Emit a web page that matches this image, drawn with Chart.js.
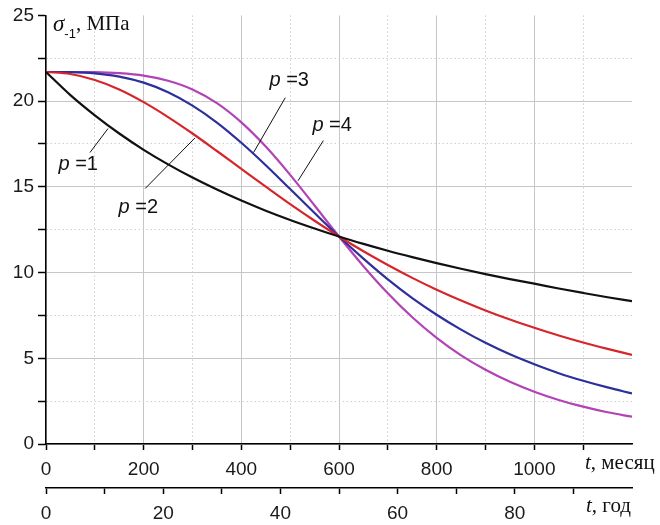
<!DOCTYPE html>
<html>
<head>
<meta charset="utf-8">
<script src="https://cdn.jsdelivr.net/npm/chart.js@4/dist/chart.umd.min.js"></script>
<style>
  html, body { margin: 0; padding: 0; background: #fff; }
  #wrap { width: 660px; height: 525px; }
</style>
</head>
<body>
<div id="wrap"><canvas id="sigmaChart"></canvas></div>
<script>
// time, months (read every 50 months)
const months = [0, 50, 100, 150, 200, 250, 300, 350, 400, 450, 500, 550, 600,
                650, 700, 750, 800, 850, 900, 950, 1000, 1050, 1100, 1150, 1200];

// sigma_-1, MPa for each p
const sigmaP1 = [21.70, 20.35, 19.17, 18.11, 17.16, 16.31, 15.54, 14.84, 14.20, 13.61, 13.07, 12.57, 12.10,
                 11.67, 11.27, 10.90, 10.55, 10.22, 9.91, 9.62, 9.35, 9.07, 8.81, 8.56, 8.33];
const sigmaP2 = [21.70, 21.58, 21.23, 20.68, 19.94, 19.07, 18.11, 17.09, 16.05, 15.01, 13.99, 13.02, 12.10,
                 11.24, 10.44, 9.69, 9.00, 8.37, 7.79, 7.26, 6.78, 6.33, 5.92, 5.55, 5.20];
const sigmaP3 = [21.70, 21.69, 21.62, 21.43, 21.08, 20.52, 19.74, 18.75, 17.57, 16.26, 14.87, 13.47, 12.10,
                 10.81, 9.60, 8.51, 7.54, 6.67, 5.90, 5.23, 4.65, 4.13, 3.69, 3.30, 2.95];
const sigmaP4 = [21.70, 21.70, 21.69, 21.63, 21.49, 21.19, 20.68, 19.88, 18.76, 17.35, 15.70, 13.91, 12.10,
                 10.37, 8.79, 7.39, 6.19, 5.17, 4.33, 3.63, 3.05, 2.57, 2.18, 1.85, 1.59];

const seriesNames = ['p =1', 'p =2', 'p =3', 'p =4'];
const seriesColors = ['#111111', '#d6262b', '#2d2f9c', '#b243b6'];

// label positions (month, sigma) and leader lines
const labelPos = [[66, 16.3], [189, 13.8], [498, 21.2], [586, 18.6]];
const leaderLines = [
    [[90, 17.0], [127, 18.4]],
    [[203, 14.9], [305, 17.85]],
    [[490, 20.2], [425, 17.0]],
    [[568, 17.7], [516, 15.35]]
];

const SANS = '"Liberation Sans", Arial, sans-serif';
const SERIF = '"Liberation Serif", "DejaVu Serif", serif';

function toPoints(values){
    return months.map((m, i) => ({x: m, y: values[i]}));
}

const allSeries = [sigmaP1, sigmaP2, sigmaP3, sigmaP4];
const datasets = allSeries.map((vals, i) => ({
    label: seriesNames[i],
    data: toPoints(vals),
    borderColor: seriesColors[i],
    backgroundColor: seriesColors[i],
    borderWidth: 2.2,
    pointRadius: 0,
    fill: false,
    cubicInterpolationMode: 'monotone'
}));

// text labels, axis names and leader lines
const textPlugin = {
    id: 'textPlugin',
    afterDraw(chart){
        const ctx = chart.ctx;
        const xs = chart.scales.x;
        const ys = chart.scales.y;
        const x2 = chart.scales.x2;
        ctx.save();
        ctx.fillStyle = '#111';
        ctx.textBaseline = 'alphabetic';

        // y title: sigma_-1, MPa
        let px = chart.chartArea.left + 7;
        ctx.font = 'italic 23px ' + SERIF;
        ctx.fillText('σ', px, 31);
        px += ctx.measureText('σ').width;
        ctx.font = '13px ' + SANS;
        ctx.fillText('-1', px, 38);
        px += ctx.measureText('-1').width;
        ctx.font = '21px ' + SERIF;
        ctx.fillText(', МПа', px, 30);

        // x axis names
        const drawAxisName = (rest, x, y) => {
            ctx.font = 'italic 21px ' + SERIF;
            ctx.fillText('t', x, y);
            const w = ctx.measureText('t').width;
            ctx.font = '21px ' + SERIF;
            ctx.fillText(rest, x + w, y);
        };
        drawAxisName(', месяц', xs.right - 47, xs.top + 25);
        drawAxisName(', год', x2.right - 46, x2.top + 24);

        // leader lines
        ctx.strokeStyle = '#111';
        ctx.lineWidth = 1;
        leaderLines.forEach(seg => {
            ctx.beginPath();
            ctx.moveTo(xs.getPixelForValue(seg[0][0]), ys.getPixelForValue(seg[0][1]));
            ctx.lineTo(xs.getPixelForValue(seg[1][0]), ys.getPixelForValue(seg[1][1]));
            ctx.stroke();
        });

        // p labels
        ctx.textBaseline = 'middle';
        labelPos.forEach((pos, i) => {
            const rest = seriesNames[i].slice(1);
            ctx.font = 'italic 20px ' + SANS;
            const w1 = ctx.measureText('p').width;
            ctx.font = '20px ' + SANS;
            const w2 = ctx.measureText(rest).width;
            const cx = xs.getPixelForValue(pos[0]);
            const cy = ys.getPixelForValue(pos[1]);
            const left = cx - (w1 + w2) / 2;
            ctx.font = 'italic 20px ' + SANS;
            ctx.fillText('p', left, cy);
            ctx.font = '20px ' + SANS;
            ctx.fillText(rest, left + w1, cy);
        });
        ctx.restore();
    }
};

const tickFont = {family: SANS, size: 19};

const config = {
    type: 'line',
    data: {datasets: datasets},
    options: {
        responsive: true,
        maintainAspectRatio: false,
        animation: false,
        layout: {padding: {top: 14, right: 28, left: 0, bottom: 0}},
        plugins: {
            legend: {display: false},
            tooltip: {enabled: false}
        },
        scales: {
            x: {
                type: 'linear',
                position: 'bottom',
                weight: 0,
                min: 0,
                max: 1200,
                afterFit: s => { s.height = 44; },
                ticks: {
                    stepSize: 100,
                    autoSkip: false,
                    maxRotation: 0,
                    padding: 8,
                    color: '#1a1a1a',
                    font: tickFont,
                    callback: v => (v % 200 === 0 && v < 1200) ? v : ''
                },
                grid: {
                    color: c => (c.tick && c.tick.value >= 1200) ? 'rgba(0,0,0,0)'
                        : (c.tick && c.tick.value % 200 === 0 ? '#c6c6c6' : '#d0d0d0'),
                    lineWidth: 1,
                    tickColor: c => (c.tick && c.tick.value >= 1200) ? 'rgba(0,0,0,0)' : '#000',
                    tickLength: 6,
                    tickWidth: 1.5
                },
                border: {
                    color: '#000',
                    width: 1.5,
                    dash: c => (c.tick && c.tick.value % 200 !== 0) ? [1.5, 2.5] : []
                }
            },
            x2: {
                type: 'linear',
                position: 'bottom',
                weight: 1,
                min: 0,
                max: 100,
                afterFit: s => { s.height = 37; },
                ticks: {
                    stepSize: 10,
                    autoSkip: false,
                    maxRotation: 0,
                    padding: 8,
                    color: '#1a1a1a',
                    font: tickFont,
                    callback: v => (v % 20 === 0 && v < 100) ? v : ''
                },
                grid: {
                    drawOnChartArea: false,
                    tickColor: c => (c.tick && c.tick.value >= 100) ? 'rgba(0,0,0,0)' : '#000',
                    tickLength: 6,
                    tickWidth: 1.5
                },
                border: {color: '#000', width: 1.5}
            },
            y: {
                min: 0,
                max: 25,
                afterFit: s => { s.width = 46; },
                ticks: {
                    stepSize: 2.5,
                    autoSkip: false,
                    padding: 4,
                    color: '#1a1a1a',
                    font: tickFont,
                    callback: v => (v % 5 === 0) ? v : ''
                },
                grid: {
                    color: c => (c.tick && c.tick.value >= 25) ? 'rgba(0,0,0,0)'
                        : (c.tick && c.tick.value % 5 === 0 ? '#c6c6c6' : '#d0d0d0'),
                    lineWidth: 1,
                    tickColor: '#000',
                    tickLength: 8,
                    tickWidth: 1.5
                },
                border: {
                    color: '#000',
                    width: 1.5,
                    dash: c => (c.tick && c.tick.value % 5 !== 0) ? [1.5, 2.5] : []
                }
            }
        }
    },
    plugins: [textPlugin]
};

new Chart(document.getElementById('sigmaChart').getContext('2d'), config);
</script>
</body>
</html>
